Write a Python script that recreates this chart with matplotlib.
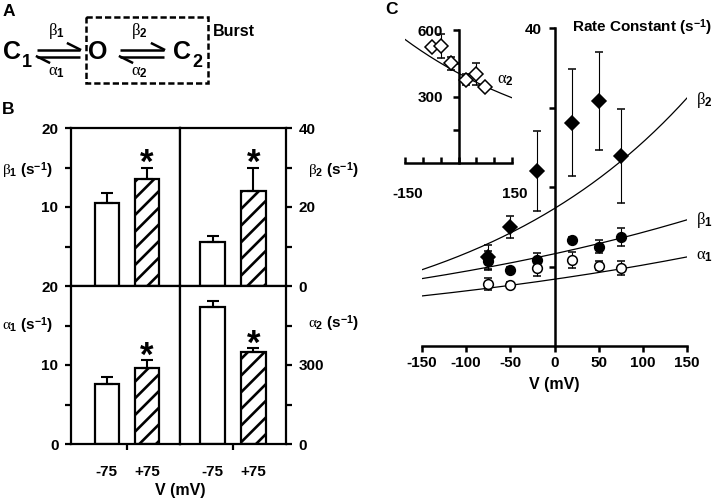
import numpy as np
import matplotlib
matplotlib.use('Agg')
import matplotlib.pyplot as plt
from matplotlib.patches import Rectangle

plt.rcParams['font.family'] = ['Liberation Sans', 'DejaVu Sans']
plt.rcParams['font.weight'] = 'bold'
plt.rcParams['mathtext.fontset'] = 'custom'
plt.rcParams['mathtext.rm'] = 'Liberation Sans:bold'
plt.rcParams['mathtext.bf'] = 'Liberation Sans:bold'
plt.rcParams['mathtext.it'] = 'Liberation Serif:weight=normal'
plt.rcParams['hatch.linewidth'] = 1.9

# Panel C: rate constants (s^-1) against membrane voltage (mV)
volt = [-75, -50, -20, 20, 50, 75]
beta2 = [11.2, 15.0, 22.0, 28.1, 30.8, 23.9]
beta2_err = [1.5, 1.4, 5.0, 6.7, 6.2, 5.9]
beta1 = [10.7, 9.6, 10.8, 13.3, 12.5, 13.7]
beta1_err = [1.2, 0.3, 0.9, 0.4, 0.8, 1.1]
alpha1 = [7.8, 7.7, 9.8, 10.8, 10.1, 9.85]
alpha1_err = [0.7, 0.4, 1.0, 1.0, 0.6, 0.9]
alpha2 = [524, 527, 449, 376, 400, 345]
alpha2_err = [10, 53, 30, 26, 49, 10]

# exponential fits k(V) = k0 * exp(z * V)
fit_beta2 = (17.3, 0.00393)
fit_beta1 = (11.6, 0.00209)
fit_alpha1 = (8.4, 0.00192)
fit_alpha2 = (405.0, -0.00213)

# Panel B: rate constants at -75 and +75 mV
bar_labels = ['-75', '+75']
b_beta1 = [10.5, 13.6]
b_beta1_err = [1.3, 1.4]
b_beta2 = [11.2, 24.1]
b_beta2_err = [1.5, 5.9]
b_alpha1 = [7.6, 9.6]
b_alpha1_err = [0.85, 1.0]
b_alpha2 = [520, 348]
b_alpha2_err = [23, 15]

W, H = 720, 504
FS = 11
fig = plt.figure(figsize=(7.2, 5.04), dpi=100)


def px_rect(x0, y0, x1, y1):
    return [x0 / W, 1 - y1 / H, (x1 - x0) / W, (y1 - y0) / H]


def bar_panel(rect, xlim, vals, errs, ylim, side, major, major_lab, minor, bottom):
    ax = fig.add_axes(px_rect(*rect))
    ax.set_xlim(*xlim)
    ax.set_ylim(*ylim)
    for s in ax.spines.values():
        s.set_linewidth(1.6)
    ax.bar(0, vals[0], width=0.6, color='white', edgecolor='k', linewidth=1.6,
           yerr=[[0], [errs[0]]], capsize=4,
           error_kw=dict(elinewidth=1.5, capthick=1.5, ecolor='k'))
    ax.bar(1, vals[1], width=0.6, color='white', edgecolor='k', linewidth=1.6,
           hatch='//', yerr=[[0], [errs[1]]], capsize=4,
           error_kw=dict(elinewidth=1.5, capthick=1.5, ecolor='k'))
    ax.annotate('*', xy=(1, vals[1] + errs[1]), xytext=(0, -9), textcoords='offset points',
                ha='center', va='bottom', fontsize=25, fontweight='bold')
    ax.yaxis.set_ticks_position(side)
    ax.set_yticks(major)
    ax.set_yticklabels(major_lab, fontsize=FS, fontweight='bold')
    ax.set_yticks(minor, minor=True)
    ax.tick_params(axis='y', which='both', direction='out', length=4, width=1.6, pad=5)
    if bottom:
        ax.set_xticks([0.5])
        ax.set_xticklabels([''])
        ax.set_xticks([0, 1], minor=True)
        ax.set_xticklabels(bar_labels, minor=True, fontsize=FS, fontweight='bold')
        ax.tick_params(axis='x', which='major', direction='out', length=4, width=1.6)
        ax.tick_params(axis='x', which='minor', length=0, pad=15)
    else:
        ax.set_xticks([])
    return ax


bar_panel((71, 128, 180, 286), (-0.88, 1.81), b_beta1, b_beta1_err, (0, 20), 'left',
          [10, 20], ['10', '20'], [5, 15], False)
bar_panel((180, 128, 286, 286), (-0.80, 1.80), b_beta2, b_beta2_err, (0, 40), 'right',
          [0, 20, 40], ['0', '20', '40'], [10, 30], False)
bar_panel((71, 286, 180, 444), (-0.88, 1.81), b_alpha1, b_alpha1_err, (0, 20), 'left',
          [0, 10, 20], ['0', '10', '20'], [5, 15], True)
bar_panel((180, 286, 286, 444), (-0.80, 1.80), b_alpha2, b_alpha2_err, (0, 600), 'right',
          [0, 300], ['0', '300'], [150, 450], True)

# Panel C main axes
ax = fig.add_axes(px_rect(422, 28, 687, 346))
ax.patch.set_visible(False)
ax.set_xlim(-150, 150)
ax.set_ylim(0, 40)
ax.spines['top'].set_visible(False)
ax.spines['right'].set_visible(False)
ax.spines['left'].set_position(('data', 0))
ax.spines['left'].set_linewidth(1.8)
ax.spines['bottom'].set_linewidth(1.8)
ax.set_xticks(range(-150, 151, 50))
ax.set_xticklabels([str(v) for v in range(-150, 151, 50)], fontsize=FS, fontweight='bold')
ax.set_yticks([10, 20, 30, 40])
ax.set_yticklabels(['', '', '', '40'], fontsize=FS, fontweight='bold')
ax.tick_params(direction='out', length=4, width=1.8, pad=3)
ax.tick_params(axis='y', pad=5)
ax.set_xlabel('V (mV)', fontsize=FS + 0.5, fontweight='bold', labelpad=5)

vv = np.linspace(-150, 150, 300)
for k0, z in (fit_beta2, fit_beta1, fit_alpha1):
    ax.plot(vv, k0 * np.exp(z * vv), color='k', lw=0.9)
eb = dict(ecolor='k', elinewidth=0.8, capsize=3, capthick=0.8, ms=7, mec='k', mew=1.1)
ax.errorbar(volt, beta2, yerr=beta2_err, fmt='D', mfc='k', **eb)
ax.errorbar(volt, beta1, yerr=beta1_err, fmt='o', mfc='k', **eb)
ax.errorbar(volt, alpha1, yerr=alpha1_err, fmt='o', mfc='white', **eb)
ax.text(160, 30.9, r'$\beta_2$', fontsize=12, va='center', ha='left')
ax.text(160, 15.8, r'$\beta_1$', fontsize=12, va='center', ha='left')
ax.text(160, 11.2, r'$\alpha_1$', fontsize=12, va='center', ha='left')
ax.text(20, 40, 'Rate Constant (s$^{-1}$)', fontsize=FS, fontweight='bold', va='center', ha='left')

# inset: alpha2
axi = fig.add_axes(px_rect(405, 30, 512, 163))
axi.patch.set_visible(False)
axi.set_xlim(-150, 150)
axi.set_ylim(0, 600)
axi.spines['top'].set_visible(False)
axi.spines['right'].set_visible(False)
axi.spines['left'].set_position(('data', 0))
axi.spines['left'].set_linewidth(1.8)
axi.spines['bottom'].set_linewidth(1.8)
axi.set_xticks(range(-150, 151, 50))
axi.set_xticklabels([])
axi.set_yticks([150, 300, 450, 600])
axi.set_yticklabels(['', '300', '', '600'], fontsize=FS, fontweight='bold')
axi.tick_params(axis='y', direction='out', length=4, width=1.8, pad=7)
axi.tick_params(axis='x', direction='in', length=4, width=1.8)
for xv, lab in ((-150, '-150'), (150, '150')):
    axi.annotate(lab, xy=(xv, 0), xytext=(2, -17), textcoords='offset points',
                 ha='center', va='top', fontsize=FS, fontweight='bold', annotation_clip=False)
axi.plot(vv, fit_alpha2[0] * np.exp(fit_alpha2[1] * vv), color='k', lw=0.9)
axi.errorbar(volt, alpha2, yerr=alpha2_err, fmt='D', mfc='white', zorder=3, **eb)
axi.text(109, 373, r'$\alpha_2$', fontsize=12, va='center', ha='left')

# overlay for the kinetic scheme and free labels, in pixel coordinates
ov = fig.add_axes([0, 0, 1, 1])
ov.set_xlim(0, W)
ov.set_ylim(H, 0)
ov.axis('off')

ov.text(9, 12, 'A', fontsize=12.5, fontweight='bold', ha='center', va='center')
ov.text(8, 110, 'B', fontsize=12.5, fontweight='bold', ha='center', va='center')
ov.text(392, 9, 'C', fontsize=12.5, fontweight='bold', ha='center', va='center')

for xc, name, sub in ((3, 'C', '1'), (173, 'C', '2')):
    ov.text(xc, 59, name, fontsize=18, fontweight='bold', ha='left', va='baseline')
    ov.text(xc + 19, 67, sub, fontsize=13, fontweight='bold', ha='left', va='baseline')
ov.text(88, 59, 'O', fontsize=18, fontweight='bold', ha='left', va='baseline')
for x0, x1 in ((37, 80), (120, 164)):
    ov.plot([x0, x1], [49.5, 49.5], color='k', lw=1.8, solid_capstyle='butt')
    ov.plot([x1 - 12, x1], [43.5, 49.5], color='k', lw=1.8)
    ov.plot([x0, x1], [56.5, 56.5], color='k', lw=1.8, solid_capstyle='butt')
    ov.plot([x0, x0 + 12], [56.5, 62.5], color='k', lw=1.8)
ov.text(56, 31, r'$\beta_1$', fontsize=12, ha='center', va='center')
ov.text(56, 72, r'$\alpha_1$', fontsize=12, ha='center', va='center')
ov.text(139, 31, r'$\beta_2$', fontsize=12, ha='center', va='center')
ov.text(139, 72, r'$\alpha_2$', fontsize=12, ha='center', va='center')
ov.add_patch(Rectangle((86, 17), 122, 66, fill=False, edgecolor='k', lw=1.8,
                       linestyle=(0, (2.5, 1.2))))
ov.text(213, 31, 'Burst', fontsize=FS + 0.5, fontweight='bold', ha='left', va='center')

ov.text(2, 171, r'$\beta_1$ (s$^{-1}$)', fontsize=FS, fontweight='bold', ha='left', va='center')
ov.text(2, 326, r'$\alpha_1$ (s$^{-1}$)', fontsize=FS, fontweight='bold', ha='left', va='center')
ov.text(308, 171, r'$\beta_2$ (s$^{-1}$)', fontsize=FS, fontweight='bold', ha='left', va='center')
ov.text(308, 324, r'$\alpha_2$ (s$^{-1}$)', fontsize=FS, fontweight='bold', ha='left', va='center')
ov.text(180, 490, 'V (mV)', fontsize=FS + 0.5, fontweight='bold', ha='center', va='center')

fig.savefig('out.png', dpi=100)
